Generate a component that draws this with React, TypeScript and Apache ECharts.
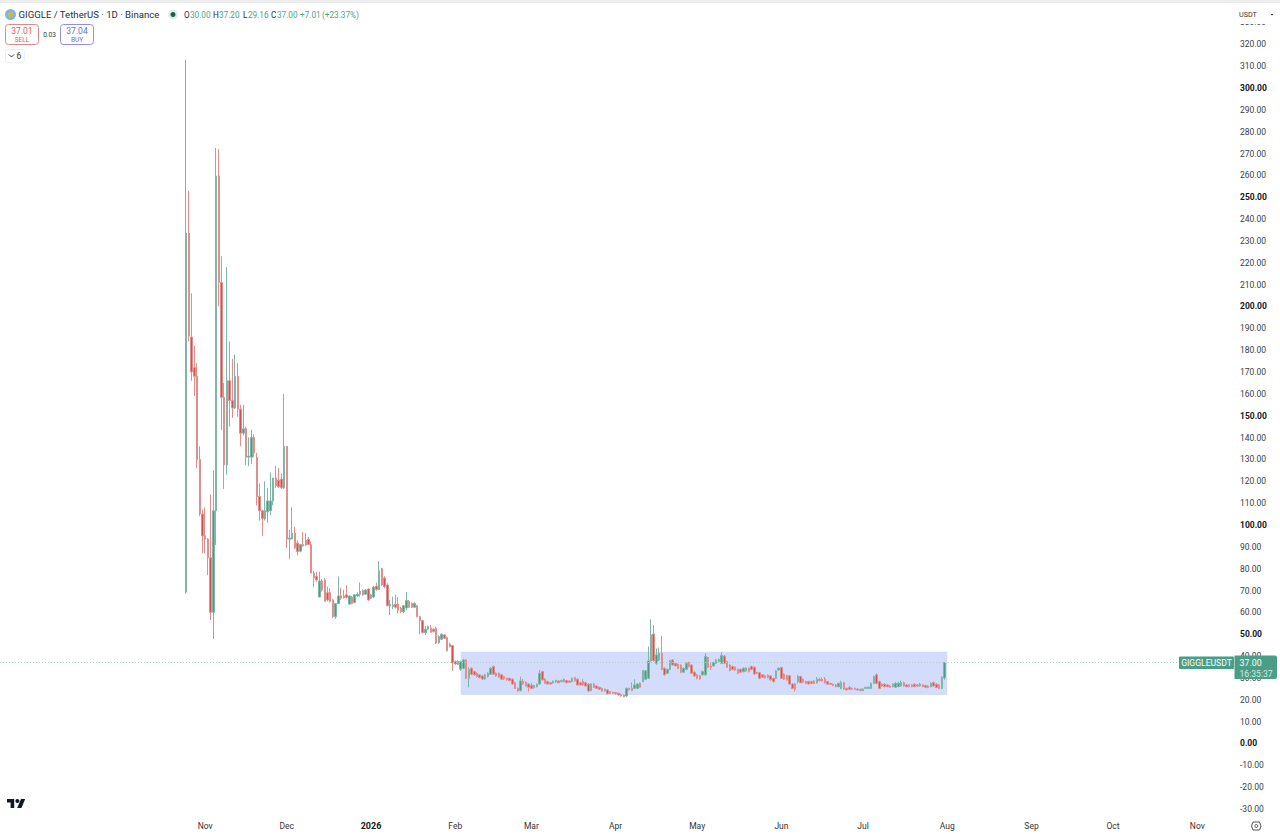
import React, { useEffect, useRef } from "react";
import * as echarts from "echarts";

// candle rows: [open, close, low, high]
const launchCandles: number[][] = [
  [69.3,233.5,68.5,312.8],[233.5,186.5,184,253],[186,170,166,206],[172,168,159,182],[168,130,126,174],
  [130,105,104,136],[105,95,87,107],[95,93.5,87,108],[93.5,85,77,94],[85,60,56.5,114],
  [60,106.5,47.8,125],[106.5,259.7,90.8,272.5],[259.7,211,200,272],[211,158.4,143.5,223],[158.4,127.5,116.5,165],
  [127.5,166,123,218],[166,157,145,184],[157,153.5,149,176],[153.5,168,153,178],[168,153,149.5,174],
  [153,142,136,155],[142,144,141,155],[144,131,127.5,145],[131,131.5,127,140],[131,140,128,143.5],
  [140,133,131,141.5],[131,113,109,133],[113,106.5,102,119],[106.5,103,95,107],[102.8,106.5,102,120],
  [106,111,101,117],[106.5,111,104.5,124],[111,121.5,109,121.5],[121.5,118,117,127],[120.5,117.5,117,126],
  [121,117,116.5,123.5],[117,136,116.5,160],
];
const declineCandles: number[][] = [
  [136,93.5,89.5,136],[93.5,94,84.3,97.7],[93.6,96.3,93.4,108],[96.3,89.6,89,99],[91.7,87.8,86,93],
  [88,91,87.5,91.3],[91,90.5,90,96.7],[93,90.8,90.3,96.3],[93.5,91,90.7,94.5],[91,78,77.8,92.5],
  [78,75.7,71.5,79],[76.4,74.8,74,78.6],[67,74.4,67,78.6],[74.4,70.2,69.5,75.3],[74.8,65,65,75.7],
  [69,65.7,65,71.8],[69,65,64.5,71],[65.7,58,57.4,66],[58,64,57,64.3],[64,67.5,63.8,76.4],
  [67.6,66.5,65.7,71.3],[67.5,66.7,66.3,70.3],[68,66.9,66.4,72.5],[63.8,67.5,63.4,67.8],[66.9,64.1,63.7,67.5],
  [64.5,68,64.1,68.4],[67.5,68.3,67,69.2],[68.3,69.5,67.2,73.6],[69.9,68,67.6,70.5],[68.3,70.2,68,70.6],
  [70.7,65.7,65.3,71],[66.4,68,66,68.4],[67,71.6,66.6,72.1],[72,70.5,69.9,73.6],[70.5,79,70.2,83.5],
  [80,72.5,72,80.4],[75.7,71.8,71,76.5],[72.5,63,62.9,73.3],[62.9,63.7,58.8,65.7],[62.6,63.4,61.5,67.2],
  [63.7,62.3,61.8,68],[63.8,61,59.5,67],[61.9,60.3,59.6,62.6],[60.3,63,59.6,63.3],[62,65.4,61,69.3],
  [64.9,62.3,62,65.7],[64.1,62.3,62,64.5],[62.3,64.1,62,64.5],[63,58,57.7,63.4],[58,56.2,50,58.4],
  [56.2,50.7,50.4,56.6],[50.7,52.3,49.6,53.8],[52.3,53.5,52,54],[52.7,50.9,50.5,54.2],[52.3,51.2,50.8,52.7],
  [52.8,46,45.5,53.5],[46,48.9,45.7,49.6],[47.7,50,47.4,50.4],[49.7,48.1,47.8,50],[48.4,42.5,42,48.9],
  [45.5,44.3,44,46.1],[44.8,36.8,33.2,44.8],
];
const rangeCandlesA: number[][] = [
  [37.5,36.4,36,38],[36.2,37.5,36,38],[34,37.5,33.3,37.8],[34.4,38.2,34,38.7],[38.2,29.8,29.5,38.5],
  [29.8,33.9,25.7,34.9],[34.4,31.7,31.3,34.9],[32.9,31.4,31,33.3],[32.1,30.6,30.2,32.6],[31.4,30.1,29.8,31.8],
  [30.9,29.5,29.1,31.3],[29.5,31.4,29.1,31.8],[30.6,32.1,30.2,32.6],[31.7,34.4,31.4,34.9],[35.2,31.7,31.3,35.7],
  [32.1,30.9,30.5,32.5],[32.1,30.3,30,32.5],[31.4,29.4,29,31.8],[30.6,29.5,29.1,31],[29.8,29.1,28.7,30.2],
  [29.8,28.8,28.4,30.2],[29.4,27.2,26.9,29.8],[27.8,25.2,24.9,28.2],[25.2,24,23.7,25.6],[24.2,28.6,23.8,30.6],
  [28.6,27.2,26.8,29.5],[28,26.3,26,28.4],[27.2,25.7,23.7,27.6],[26.6,25.2,24.8,27.8],[25.5,26.5,25.1,26.9],
  [26,27.1,25.7,27.4],[27.2,32.1,26.9,33.6],[32.9,29.1,28.8,33.3],[29.5,27.5,27.2,29.9],[28.3,27.2,26.9,28.7],
  [27.8,27.2,26.8,28.2],[27.8,28.5,27.4,28.8],[28.1,28.8,27.8,29.2],[28.6,27.8,27.5,29],[28.3,28.8,28,29.2],
  [29.4,28.3,28,29.8],[28.8,27.8,27.5,29.1],[28.6,28,27.7,28.9],[28.3,29.8,28,30.2],[30.1,28.6,28.3,30.5],
  [29.4,26.8,26.5,29.8],[27.8,26.8,26.5,28.2],[28.3,26.8,26.5,29.5],[27.8,26.3,26,28.2],[27.1,24,23.7,27.5],
  [24.2,27.2,23.9,27.6],[27.2,25.7,25.4,27.6],[26.3,25.2,24.9,26.7],[25.7,24.8,24.5,26],[25.2,24,23.7,25.5],
  [24,24.8,23.7,25.1],[24.5,22.7,22.4,24.8],[23.7,23,22.7,24],[23.4,23,22.7,23.7],[23.3,22.7,22.4,23.6],
  [23,22.2,21.9,23.3],[22.5,21.7,21.4,22.8],[22.2,21.4,21.1,22.5],
];
const rangeCandlesB: number[][] = [
  [21.7,25.2,21.4,25.6],[25.2,24.5,24.2,25.5],[25.2,24.2,23.9,28],[25.2,26.8,24.9,29.4],[25.2,27.2,24.9,27.6],
  [27.5,25.7,25.4,27.9],[28.3,33.3,28,33.6],[29.4,33.3,29,33.6],[29.8,37.8,29.5,44.3],[37.8,49.7,37.5,56.8],
  [50.1,37.9,37.5,54.2],[36.7,40.5,35.9,43.5],[38.2,41.3,37.8,43.9],[41.3,33.9,33.5,49.2],[34.4,31.4,31,34.8],
  [32.1,33.9,31.8,34.3],[33.9,37.8,33.5,38.2],[38.2,35.9,35.5,38.6],[36.7,35.5,35.2,37.1],[36.2,34.4,34,36.6],
  [35.9,32.6,32.2,36.2],[32.6,34.4,32.2,34.8],[33.9,36.7,33.5,37.1],[37,35.2,34.8,37.5],[35.9,32.1,31.8,36.3],
  [32.6,30.9,30.5,33],[31.4,29.8,29.4,31.8],[31,29.5,29.1,31.4],[31.4,32.9,31,33.3],[31.4,39.7,31,41.3],
  [39.3,34.9,34.5,39.7],[35.5,34.9,33.6,37],[35.5,37,35.1,37.4],[36.7,38.2,36.3,38.6],[37.5,38.5,37.1,38.9],
  [36.7,40.2,36.3,41.7],[40,36.7,36.3,40.4],[37.5,34.9,34.5,37.9],[35.9,33.3,33,36.3],[35.2,33.9,33.5,35.6],
  [34.9,33.6,33.2,35.3],[33.9,32.1,31.7,34.3],[33.9,32.6,32.2,34.3],[32.9,34.4,32.5,34.8],[33.2,34.4,32.8,34.8],
  [34.4,32.9,32.5,34.8],[35.2,33.9,33.5,35.6],[34.9,31.8,31.4,35.3],[32.4,32.1,31.8,32.8],[32.4,29.8,29.4,32.8],
  [31.4,30.3,30,31.8],[31,30.1,29.8,31.4],[31.2,30.1,29.8,31.6],[30.9,29.1,28.7,31.3],[29.8,28.3,27.9,30.2],
  [29.8,33.2,29.4,33.6],[33.6,34.4,33.2,34.8],[34.7,29.8,29.4,35.1],[31.7,29.4,29,32.1],[31,29.1,28.7,31.4],
  [31,27.2,26.8,31.4],[27.2,25.2,24.9,27.6],[27.2,24.8,23.7,27.6],[28.3,30.6,27.5,31.4],[30.6,27.8,27.5,31],
];
const rangeCandlesC: number[][] = [
  [29.4,28,27.6,29.8],[28.3,27.5,27.1,28.7],[28.3,27.2,26.9,28.7],[28.3,27.5,27.1,28.6],[28.6,27.5,27.2,29],
  [27.8,29.4,27.4,30.4],[29.4,28.8,28.5,30],[29.4,28.6,28.3,30.2],[29.5,27.8,27.4,30.4],[28.3,27.1,26.8,28.7],
  [27.5,27.1,26.8,27.8],[27.1,26.5,26.2,27.4],[26.8,26,25.7,27.2],[26,27.5,25.6,27.8],[25.2,27.8,24.8,28.7],
  [27.8,24.9,24.5,28.2],[25.2,24.5,24.2,25.6],[25.6,24.8,24.5,26.4],[25.2,24.8,24.5,25.6],[25.2,24.8,24.5,25.6],
  [24.9,24.5,24.2,25.3],[24.8,24.2,23.9,25.1],[24.2,24.9,23.9,25.3],[25.2,25.6,24.9,26],[25.2,25.7,24.9,26],
  [25.2,27.5,24.9,27.9],[27.5,30.6,27.2,31],[31.4,27.5,27.1,32.1],[28.3,25.2,24.9,28.7],[27.1,26.3,26,27.6],
  [27.1,26,25.7,27.5],[26.8,26,25.7,27.2],[26.3,25.7,25.4,26.7],[26,27.1,25.7,27.5],[25.7,27.5,25.4,28.1],
  [26,27.5,25.7,28.2],[26.3,28,26,28.8],[27.8,26.3,26,28.3],[26.8,26,25.7,27.2],[26.8,26,25.7,27.1],
  [26.8,26,25.7,27.2],[27.1,26,25.7,27.6],[26.8,26.3,26,27.2],[26.3,27.1,26,27.7],[26.8,26,25.7,27.2],
  [26.5,25.7,25.4,26.9],[26.3,25.6,25.3,26.7],[26,27.5,25.7,27.9],[27.8,26.3,26,28.3],[27.1,25.6,25.3,27.5],
  [26.8,25.2,24.9,27.2],[25.2,30.3,24.9,30.7],[30,37,29.16,37.2],
];
const firstCandleDate = "2025-10-25";
const firstMonthLabelDate = "2025-11-01";
const axisDayCount = 454;
const lastPrice = 37;
const boxTop = 42;
const boxBottom = 22.2;
const boxStart = "2026-02-03";
const boxEnd = "2026-08-01";
const monthNames = ["Jan","Feb","Mar","Apr","May","Jun","Jul","Aug","Sep","Oct","Nov","Dec"];
const boldPrices = [0, 50, 100, 150, 200, 250, 300];

const GREEN = "#4a9a86";
const RED = "#d4504f";
const FONT = "Roboto, 'Liberation Sans', sans-serif";

const dayMs = 86400000;
const startMs = Date.UTC(2025, 7, 18);
const categories: string[] = [];
for (let i = 0; i < axisDayCount; i++) {
  categories.push(new Date(startMs + i * dayMs).toISOString().slice(0, 10));
}
const allCandles = [...launchCandles, ...declineCandles, ...rangeCandlesA, ...rangeCandlesB, ...rangeCandlesC];
const leadCount = categories.indexOf(firstCandleDate);
const seriesData: any[] = [];
for (let i = 0; i < leadCount; i++) seriesData.push(["-", "-", "-", "-"]);
allCandles.forEach((c) => seriesData.push(c));

const txt = (x: number, y: number, text: string, fill: string, size: number, extra: any = {}) => ({
  type: "text",
  x,
  y,
  z: 200,
  style: { text, fill, font: `${extra.weight || "normal"} ${size}px ${FONT}`, textAlign: extra.align || "left", textVerticalAlign: "middle", textBaseline: "middle" },
});
const box = (x: number, y: number, w: number, h: number, fill: string, stroke: string, r: number | number[] = 0) => ({
  type: "rect",
  z: 150,
  shape: { x, y, width: w, height: h, r },
  style: { fill, stroke, lineWidth: stroke === "none" ? 0 : 1 },
});

const HEAD = "#4ba48d";

export default function App() {
  const ref = useRef<HTMLDivElement>(null);
  useEffect(() => {
    const chart = echarts.init(ref.current!, undefined, { renderer: "svg" });
    chart.setOption({
      animation: false,
      backgroundColor: "#ffffff",
      grid: { left: 0, right: 46, top: 22.4, bottom: 25 },
      xAxis: {
        type: "category",
        data: categories,
        boundaryGap: true,
        axisLine: { show: false },
        axisTick: { show: false },
        splitLine: { show: false },
        axisLabel: {
          margin: 12,
          fontFamily: FONT,
          fontSize: 8.5,
          color: "#333",
          hideOverlap: false,
          interval: (_i: number, v: string) => v.slice(8) === "01" && v >= firstMonthLabelDate,
          formatter: (v: string) => {
            const m = Number(v.slice(5, 7));
            return m === 1 ? `{b|${v.slice(0, 4)}}` : monthNames[m - 1];
          },
          rich: { b: { fontWeight: "bold", color: "#131722", fontSize: 9, fontFamily: FONT } },
        },
      },
      yAxis: {
        type: "value",
        position: "right",
        min: -30,
        max: 330,
        interval: 10,
        scale: false,
        axisLine: { show: false },
        axisTick: { show: false },
        splitLine: { show: false },
        axisLabel: {
          margin: 6,
          fontFamily: FONT,
          fontSize: 8.5,
          color: "#3a3d46",
          formatter: (v: number) =>
            boldPrices.includes(v) ? `{b|${v.toFixed(2)}}` : v.toFixed(2),
          rich: { b: { fontWeight: "bold", color: "#131722", fontSize: 8.5, fontFamily: FONT } },
        },
      },
      series: [
        {
          type: "candlestick",
          data: seriesData,
          barWidth: 2,
          clip: false,
          silent: true,
          itemStyle: {
            color: GREEN,
            color0: RED,
            borderColor: "#7fb6a8",
            borderColor0: "#e08f8c",
            borderWidth: 1,
          },
          markArea: {
            silent: true,
            itemStyle: { color: "#d3dcfa" },
            data: [[{ xAxis: boxStart, yAxis: boxTop }, { xAxis: boxEnd, yAxis: boxBottom }]],
          },
          markLine: {
            silent: true,
            symbol: "none",
            label: { show: false },
            lineStyle: { color: "#b5cfc8", type: [1, 2], width: 1 },
            data: [{ yAxis: lastPrice }],
          },
        },
      ],
      graphic: [
        box(0, 0, 1280, 3, "#ededed", "none"),
        // Header
        { type: "circle", z: 150, shape: { cx: 10.5, cy: 14.5, r: 5.5 }, style: { fill: "#7fb6dc" } },
        { type: "circle", z: 151, shape: { cx: 10.5, cy: 14.5, r: 2.8 }, style: { fill: "#c9b75a" } },
        txt(18.5, 14.5, "GIGGLE / TetherUS · 1D · Binance", "#2a2e39", 9.6),
        { type: "circle", z: 150, shape: { cx: 173, cy: 14.5, r: 5 }, style: { fill: "#dfeeea" } },
        { type: "circle", z: 151, shape: { cx: 173, cy: 14.5, r: 2.5 }, style: { fill: "#1f5e4e" } },
        txt(184, 14.5, "O", "#2a2e39", 8.2),
        txt(190, 14.5, "30.00", HEAD, 8.2),
        txt(213, 14.5, "H", "#2a2e39", 8.2),
        txt(219, 14.5, "37.20", HEAD, 8.2),
        txt(243, 14.5, "L", "#2a2e39", 8.2),
        txt(248, 14.5, "29.16", HEAD, 8.2),
        txt(271, 14.5, "C", "#2a2e39", 8.2),
        txt(277, 14.5, "37.00", HEAD, 8.2),
        txt(300, 14.5, "+7.01", HEAD, 8.2),
        txt(322, 14.5, "(+23.37%)", HEAD, 8.2),
        // Sell / buy
        box(5.5, 24.5, 33, 20, "#ffffff", "#dc8a8a", 3),
        txt(22, 30.5, "37.01", "#d9605f", 8.5, { align: "center" }),
        txt(22, 39.5, "SELL", "#d9605f", 6.5, { align: "center" }),
        txt(49.5, 34.5, "0.03", "#333", 6.5, { align: "center" }),
        box(60.5, 24.5, 33, 20, "#ffffff", "#8f8fe8", 3),
        txt(77, 30.5, "37.04", "#5f6fe0", 8.5, { align: "center" }),
        txt(77, 39.5, "BUY", "#5f6fe0", 6.5, { align: "center" }),
        box(5.5, 49.5, 19, 13, "#ffffff", "#eeeeee", 2),
        { type: "polyline", z: 160, shape: { points: [[9, 54.5], [11.5, 57], [14, 54.5]] }, style: { stroke: "#333", lineWidth: 1, fill: "none" } },
        txt(19, 56, "6", "#333", 8.5, { align: "center" }),
        // USDT selector, covering the upper part of the topmost price label
        box(1235, 5, 45, 19, "#ffffff", "none"),
        txt(1239, 14, "USDT", "#333", 7.2),
        { type: "polygon", z: 160, shape: { points: [[1270.5, 14], [1273.5, 14], [1272, 15.5]] }, style: { fill: "#333" } },
        // Last price tags
        box(1179, 656.5, 55, 12.5, "#4a9e87", "none", 1),
        txt(1206.5, 663, "GIGGLEUSDT", "#ffffff", 8.6, { align: "center" }),
        box(1234.5, 655.5, 42.5, 23.5, "#4a9e87", "none", [0, 2, 2, 0]),
        txt(1239.5, 663, "37.00", "#ffffff", 8.8),
        txt(1239.5, 673.5, "16:35:37", "#d6ece6", 8.6),
        // Bottom corner icon
        { type: "polygon", z: 160, shape: { points: [[1253, 822], [1259.5, 822], [1261, 826], [1259.5, 830], [1253, 830], [1251.5, 826]] }, style: { stroke: "#555", lineWidth: 1, fill: "none" } },
        { type: "circle", z: 160, shape: { cx: 1256.3, cy: 826, r: 1.5 }, style: { stroke: "#555", lineWidth: 1, fill: "none" } },
        // TradingView mark
        { type: "polygon", z: 160, shape: { points: [[7, 799], [14.2, 799], [14.2, 808], [10.6, 808], [10.6, 802.5], [7, 802.5]] }, style: { fill: "#131722" } },
        { type: "circle", z: 160, shape: { cx: 17.4, cy: 801, r: 2 }, style: { fill: "#131722" } },
        { type: "polygon", z: 160, shape: { points: [[21, 799], [25.2, 799], [21.4, 808], [17.2, 808]] }, style: { fill: "#131722" } },
      ],
    });
    return () => chart.dispose();
  }, []);
  return <div ref={ref} style={{ position: "absolute", left: 0, top: 0, width: 1280, height: 834 }} />;
}
